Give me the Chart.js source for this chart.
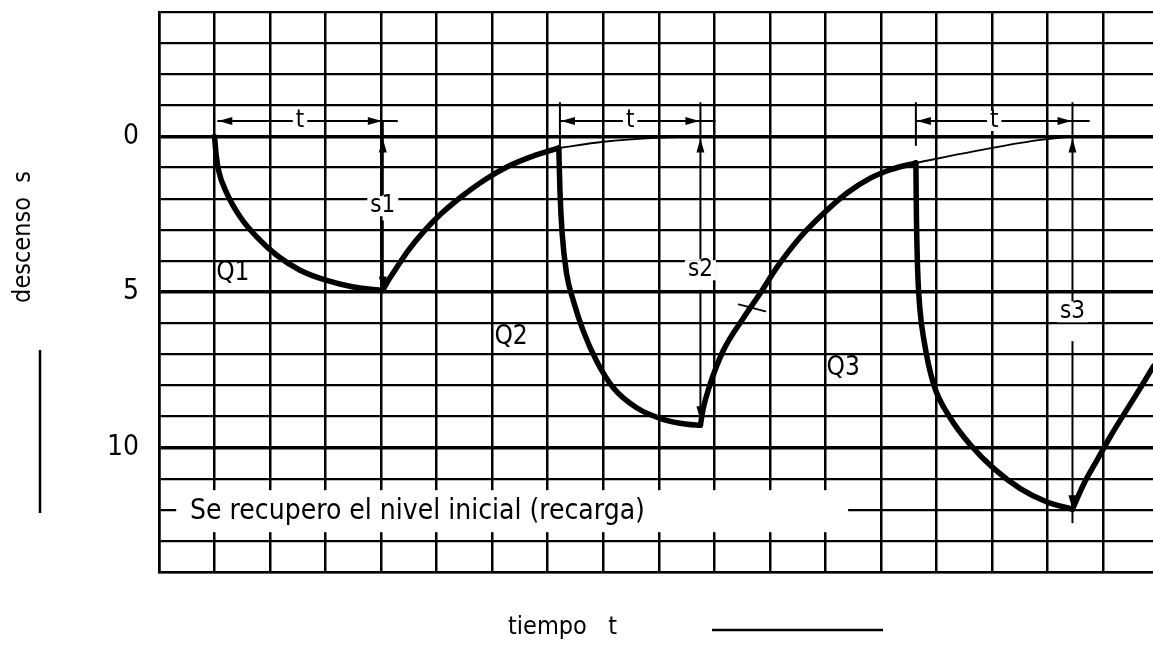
<!DOCTYPE html>
<html>
<head>
<meta charset="utf-8">
<script src="https://cdn.jsdelivr.net/npm/chart.js@4.4.0/dist/chart.umd.min.js"></script>
<style>
  html, body { margin: 0; padding: 0; background: #fff; }
  #wrap { width: 1153px; height: 646px; }
</style>
</head>
<body>
<div id="wrap"><canvas id="descensoChart" width="1153" height="646"></canvas></div>
<script>
// ========== Descenso s vs tiempo t — bombeo escalonado Q1, Q2, Q3 ==========
// x = tiempo (columnas de la cuadricula), y = descenso s (hacia abajo)
const drawdown1 = [[1, 0], [1.03, 0.6], [1.07, 1.07], [1.22, 1.82], [1.46, 2.58], [1.76, 3.23], [2.12, 3.82], [2.54, 4.3], [3.02, 4.63], [3.5, 4.84], [4.03, 4.95]];
const recovery1 = [[4.03, 4.95], [4.1, 4.72], [4.25, 4.3], [4.49, 3.66], [4.79, 3.01], [5.09, 2.47], [5.45, 1.93], [5.87, 1.39], [6.29, 0.96], [6.72, 0.64], [7.2, 0.37]];
const drawdown2 = [[7.2, 0.37], [7.22, 1.72], [7.26, 3.12], [7.34, 4.41], [7.46, 5.27], [7.64, 6.25], [7.88, 7.22], [8.18, 8.08], [8.6, 8.72], [9.09, 9.1], [9.51, 9.25], [9.75, 9.28]];
const recovery2 = [[9.75, 9.28], [9.8, 8.75], [9.9, 8.1], [10.16, 6.89], [10.53, 5.82], [10.86, 4.95], [11.13, 4.2], [11.55, 3.23], [11.97, 2.47], [12.39, 1.82], [12.81, 1.34], [13.17, 1.07], [13.63, 0.85]];
const drawdown3 = [[13.63, 0.85], [13.64, 2.58], [13.66, 4.2], [13.7, 5.5], [13.78, 6.6], [13.95, 7.97], [14.25, 9.05], [14.61, 9.91], [15.03, 10.67], [15.51, 11.32], [15.99, 11.75], [16.45, 11.98]];
const recovery3 = [[16.45, 11.98], [16.66, 11.15], [16.9, 10.38], [17.14, 9.62], [17.44, 8.75], [17.68, 8.06], [17.91, 7.38]];
const trend1 = [[7.2, 0.37], [8.0, 0.17], [9.0, 0.04], [9.75, 0]];
const trend2 = [[13.63, 0.85], [14.67, 0.48], [15.71, 0.15], [16.45, 0]];
const curveTick = [[10.44, 5.4], [10.92, 5.62]];

const yTickLabels = [0, 5, 10];
const majorLines = [0, 5, 10];

// cotas "t" (intervalos de bombeo) y "s" (descensos)
const tStart = [1.05, 7.22, 13.63];
const tEnd = [4.03, 9.75, 16.45];
const tOver = [4.3, 10.02, 16.76];
const sLabels = ['s1', 's2', 's3'];
const sBottom = [4.95, 9.12, 11.98];
const sLineEnd = [4.95, 9.28, 12.43];
const sLabelY = [2.24, 4.3, 5.65];
const sGapEnd = [2.7, 4.93, 6.58];
const qLabels = ['Q1', 'Q2', 'Q3'];
const qX = [1.33, 6.34, 12.32];
const qY = [4.39, 6.45, 7.44];
const rechargeText = 'Se recupero el nivel inicial (recarga)';

const FONT = "'Liberation Sans Narrow', 'DejaVu Sans Condensed', 'Roboto', sans-serif";

function pts(arr) { return arr.map(function(p) { return { x: p[0], y: p[1] }; }); }

function arrowHead(ctx, x, y, dir) {
    // dir: 'up','down','left','right' ; punta en (x,y)
    var L = 14, W = 4;
    ctx.beginPath();
    ctx.moveTo(x, y);
    if (dir === 'up') { ctx.lineTo(x - W, y + L); ctx.lineTo(x + W, y + L); }
    if (dir === 'down') { ctx.lineTo(x - W, y - L); ctx.lineTo(x + W, y - L); }
    if (dir === 'left') { ctx.lineTo(x + L, y - W); ctx.lineTo(x + L, y + W); }
    if (dir === 'right') { ctx.lineTo(x - L, y - W); ctx.lineTo(x - L, y + W); }
    ctx.closePath();
    ctx.fill();
}

function line(ctx, x1, y1, x2, y2, w) {
    ctx.lineWidth = w;
    ctx.beginPath();
    ctx.moveTo(x1, y1);
    ctx.lineTo(x2, y2);
    ctx.stroke();
}

function label(ctx, text, x, y, size, gap) {
    ctx.font = size + 'px ' + FONT;
    if (gap) {
        var w = ctx.measureText(text).width;
        ctx.fillStyle = '#fff';
        ctx.fillRect(x - w / 2 - 3, y - size * 0.42, w + 6, size * 0.84);
    }
    ctx.fillStyle = '#000';
    ctx.textAlign = 'center';
    ctx.textBaseline = 'middle';
    ctx.fillText(text, x, y);
}

const overlayPlugin = {
    id: 'overlay',
    beforeDatasetsDraw: function(chart) {
        var ctx = chart.ctx, xs = chart.scales.x, ys = chart.scales.y;
        ctx.save();
        // banda blanca del texto de recarga
        var x1 = xs.getPixelForValue(0.31), x2 = xs.getPixelForValue(12.41);
        var y1 = ys.getPixelForValue(11.37), y2 = ys.getPixelForValue(12.72);
        ctx.fillStyle = '#fff';
        ctx.fillRect(x1, y1, x2 - x1, y2 - y1);
        ctx.fillStyle = '#000';
        ctx.font = '28px ' + FONT;
        ctx.textAlign = 'left';
        ctx.textBaseline = 'middle';
        ctx.fillText(rechargeText, xs.getPixelForValue(0.56), ys.getPixelForValue(12.05));
        ctx.restore();
    },
    afterDatasetsDraw: function(chart) {
        var ctx = chart.ctx, xs = chart.scales.x, ys = chart.scales.y;
        ctx.save();
        ctx.strokeStyle = '#000';
        ctx.fillStyle = '#000';
        var rowY = ys.getPixelForValue(-0.5);
        var topY = ys.getPixelForValue(-1.1);
        var zeroY = ys.getPixelForValue(0);
        for (var i = 0; i < tStart.length; i++) {
            var xa = xs.getPixelForValue(tStart[i]);
            var xb = xs.getPixelForValue(tEnd[i]);
            var xe = xs.getPixelForValue(tOver[i]);
            ctx.fillStyle = '#000';
            line(ctx, xa, rowY, xe, rowY, 2);
            arrowHead(ctx, xa + 1, rowY, 'left');
            arrowHead(ctx, xb - 1, rowY, 'right');
            if (i > 0) line(ctx, xa, topY, xa, ys.getPixelForValue(0.3), 2);
            label(ctx, 't', (xa + xb) / 2, rowY, 24, true);

            // cota vertical s
            var sTop = i === 0 ? rowY : topY;
            var gapA = ys.getPixelForValue(sLabelY[i] - 0.35);
            var gapB = ys.getPixelForValue(sGapEnd[i]);
            line(ctx, xb, sTop, xb, gapA, 2);
            line(ctx, xb, gapB, xb, ys.getPixelForValue(sLineEnd[i]), 2);
            ctx.fillStyle = '#000';
            arrowHead(ctx, xb, zeroY + 2, 'up');
            arrowHead(ctx, xb, ys.getPixelForValue(sBottom[i]), 'down');
            label(ctx, sLabels[i], xb, ys.getPixelForValue(sLabelY[i]), 24, true);

            // caudales Q
            label(ctx, qLabels[i], xs.getPixelForValue(qX[i]), ys.getPixelForValue(qY[i]), 26, false);
        }
        ctx.restore();
    },
    afterDraw: function(chart) {
        var ctx = chart.ctx;
        ctx.save();
        ctx.fillStyle = '#000';
        ctx.strokeStyle = '#000';
        ctx.font = '25px ' + FONT;
        // titulo eje y
        ctx.translate(23, 237);
        ctx.rotate(-Math.PI / 2);
        ctx.textAlign = 'center';
        ctx.textBaseline = 'middle';
        ctx.fillText('descenso  s', 0, 0);
        ctx.setTransform(1, 0, 0, 1, 0, 0);
        line(ctx, 40, 350, 40, 513, 2.5);
        // titulo eje x
        ctx.textAlign = 'left';
        ctx.textBaseline = 'middle';
        ctx.fillText('tiempo   t', 508, 627);
        line(ctx, 712, 630, 883, 630, 2.5);
        ctx.restore();
    }
};

function curve(data, width) {
    return {
        data: pts(data),
        borderColor: '#000',
        borderWidth: width,
        pointRadius: 0,
        cubicInterpolationMode: 'monotone',
        borderCapStyle: 'round',
        borderJoinStyle: 'round',
        fill: false
    };
}

const chart = new Chart(document.getElementById('descensoChart').getContext('2d'), {
    type: 'line',
    data: {
        datasets: [
            curve(drawdown1, 5.5), curve(recovery1, 5.5),
            curve(drawdown2, 5.5), curve(recovery2, 5.5),
            curve(drawdown3, 5.5), curve(recovery3, 5.5),
            curve(trend1, 1.8), curve(trend2, 1.8),
            curve(curveTick, 1.8)
        ]
    },
    options: {
        responsive: false,
        devicePixelRatio: 1,
        animation: false,
        layout: { padding: { top: 12, left: 0, right: 0, bottom: 0 } },
        plugins: { legend: { display: false }, tooltip: { enabled: false } },
        scales: {
            x: {
                type: 'linear',
                min: 0,
                max: 17.9,
                afterBuildTicks: function(s) { s.ticks = s.ticks.filter(function(t) { return Number.isInteger(t.value); }); },
                afterFit: function(s) { s.height = 74; s.paddingLeft = 0; s.paddingRight = 0; },
                ticks: { display: false, stepSize: 1 },
                grid: { color: '#000', lineWidth: 2.5, drawTicks: false },
                border: { display: true, color: '#000', width: 2.5 }
            },
            y: {
                type: 'linear',
                reverse: true,
                min: -4,
                max: 14,
                afterFit: function(s) { s.width = 159; s.paddingTop = 0; s.paddingBottom = 0; },
                ticks: {
                    stepSize: 1,
                    autoSkip: false,
                    padding: 20,
                    color: '#000',
                    font: { family: FONT, size: 28 },
                    callback: function(v) { return yTickLabels.indexOf(v) >= 0 ? String(v) : ''; }
                },
                grid: {
                    color: '#000',
                    drawTicks: false,
                    lineWidth: function(c) { return c.tick && majorLines.indexOf(c.tick.value) >= 0 ? 3.5 : 2.2; }
                },
                border: { display: true, color: '#000', width: 2.5 }
            }
        }
    },
    plugins: [overlayPlugin]
});
</script>
</body>
</html>
